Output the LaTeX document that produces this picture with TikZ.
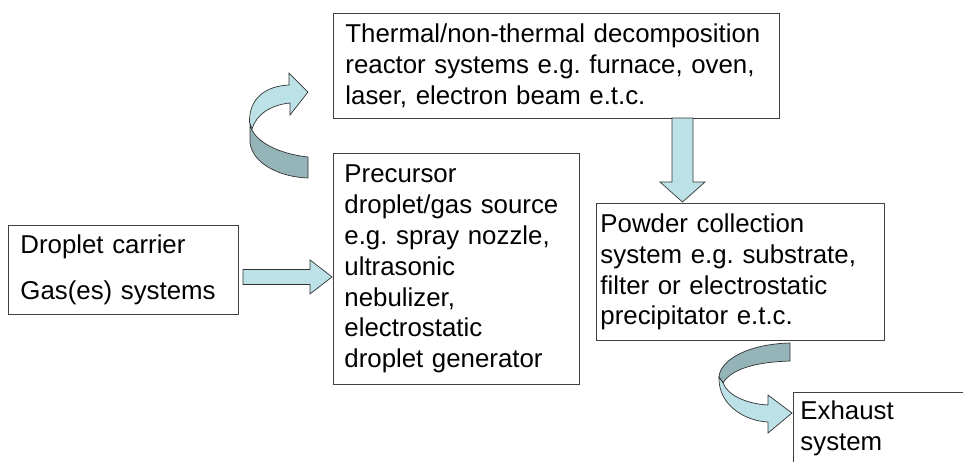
\documentclass[tikz,border=0pt]{standalone}
\usepackage{fontspec}
\setmainfont{Liberation Sans}
\usetikzlibrary{calc}
\frenchspacing

\begin{document}
\begin{tikzpicture}[
    x=0.02cm, y=-0.02cm,
    box/.style={
        draw=black!75, line width=0.5pt, anchor=north west, align=left,
        inner ysep=2pt, font=\fontsize{14.7}{17.6}\selectfont
    },
    flat/.style={draw=black!80, line width=0.4pt, fill=colArrow, line join=miter},
    back/.style={draw=black!80, line width=0.4pt, fill=colBack}
]

% ============================
% COLOR DEFINITIONS
% ============================
\definecolor{colArrow}{HTML}{BCE2E8}   % light cyan
\definecolor{colBack}{HTML}{95B4B8}    % grey teal

\useasboundingbox (0,0) rectangle (963,461);
\clip (0,0) rectangle (963,461);

% ============================
% BOXES
% ============================

% --- Droplet carrier ---
\node[box, minimum width=4.6cm, minimum height=1.78cm, inner xsep=0.24cm, text width=4.12cm]
    (carrier) at (8,225) {Droplet carrier\\[9pt]Gas(es) systems};

% --- Precursor source ---
\node[box, minimum width=4.92cm, minimum height=4.62cm, inner xsep=0.22cm, text width=4.48cm]
    (precursor) at (333,153) {Precursor\\droplet/gas source\\e.g. spray nozzle,\\ultrasonic\\nebulizer,\\electrostatic\\droplet generator};

% --- Reactor systems ---
\node[box, minimum width=8.92cm, minimum height=2.1cm, inner xsep=0.24cm, text width=8.44cm]
    (thermal) at (333,13) {Thermal/non-thermal decomposition\\reactor systems e.g. furnace, oven,\\laser, electron beam e.t.c.};

% --- Powder collection ---
\node[box, minimum width=5.76cm, minimum height=2.74cm, inner xsep=0.08cm, text width=5.6cm]
    (powder) at (596,203) {Powder collection\\system e.g. substrate,\\filter or electrostatic\\precipitator e.t.c.};

% --- Exhaust (cut off by the picture edge) ---
\node[box, draw=none, minimum height=1.44cm, inner xsep=0.14cm, text width=5.72cm]
    (exhaust) at (793,392) {Exhaust\\system};
\draw[black!75, line width=0.5pt] (exhaust.north east) -- (exhaust.north west) -- (exhaust.south west);

% ============================
% STRAIGHT ARROWS
% ============================

% carrier -> precursor
\draw[flat, shift={($(precursor.west)+(-1,8)$)}]
    (-89,-7.5) -- (-22,-7.5) -- (-22,-17) -- (0,0) -- (-22,17) -- (-22,7.5) -- (-89,7.5) -- cycle;

% thermal -> powder
\draw[flat, shift={($(powder.north west)+(86.5,-1)$)}]
    (-10.5,-84) -- (-10.5,-20) -- (-22.5,-20) -- (0,0) -- (22.5,-20) -- (10.5,-20) -- (10.5,-84) -- cycle;

% ============================
% CURVED ARROWS
% ============================

% precursor -> thermal
\draw[back] (308,157) .. controls (280,154) and (253,142) .. (250,124)
    -- (250,143) .. controls (253,164) and (280,177) .. (308,178) -- cycle;
\draw[flat] (249.5,122) .. controls (249,98) and (266,86) .. (289,85)
    -- (289,73) -- (308,92) -- (290,115) -- (290,103)
    .. controls (270,105) and (256,115) .. (252,129) -- cycle;

% powder -> exhaust
\draw[back] (790,343) .. controls (748,344) and (720,360) .. (719,377)
    -- (723,383) .. controls (732,368) and (758,362) .. (790,361) -- cycle;
\draw[flat] (719,377) .. controls (718,405) and (745,421) .. (768,422)
    -- (768,433) -- (792,413) -- (768,395) -- (768,405)
    .. controls (748,404) and (728,396) .. (723,383) -- cycle;

\end{tikzpicture}
\end{document}
